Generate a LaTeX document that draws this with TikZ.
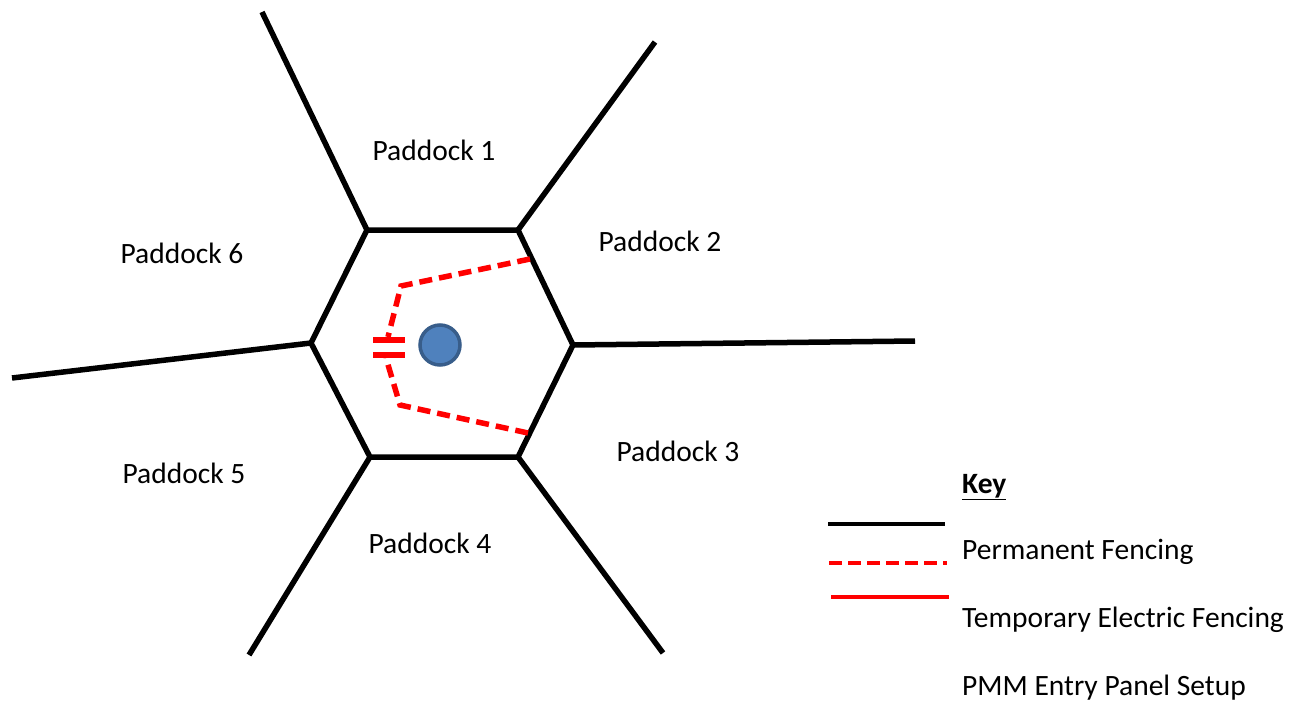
\documentclass[tikz,border=0pt]{standalone}
\usepackage{fontspec}
\setmainfont{Carlito}
\begin{document}
\begin{tikzpicture}[x=1pt,y=-1pt,
  perm/.style={line width=5.5pt,black},
  temp/.style={line width=5.5pt,red,dash pattern=on 13pt off 7pt},
  gatebar/.style={line width=5.5pt,red},
  lbl/.style={font=\fontsize{29.5}{34}\selectfont,inner sep=0pt},
  keytxt/.style={font=\fontsize{29.5}{34}\selectfont,inner sep=0pt,anchor=west}]
\useasboundingbox (0,0) rectangle (1289,704);
% hexagon corners
\coordinate (h1) at (367,230);
\coordinate (h2) at (518,230);
\coordinate (h3) at (573,345);
\coordinate (h4) at (518,457);
\coordinate (h5) at (370,457);
\coordinate (h6) at (311,343);
% outer ends of the radial fences
\coordinate (e1) at (262,12);
\coordinate (e2) at (655,42);
\coordinate (e3) at (915,341);
\coordinate (e4) at (663,653);
\coordinate (e5) at (249,655);
\coordinate (e6) at (12,378);
% permanent fencing
\draw[perm,line join=miter] (h1) -- (h2) -- (h3) -- (h4) -- (h5) -- (h6) -- cycle;
\draw[perm] (h1) -- (e1);
\draw[perm] (h2) -- (e2);
\draw[perm] (h3) -- (e3);
\draw[perm] (h4) -- (e4);
\draw[perm] (h5) -- (e5);
\draw[perm] (h6) -- (e6);
% temporary electric fencing leading to the entry gate
\coordinate (t1) at (530,259);
\coordinate (t2) at (401,286);
\coordinate (t3) at (388,337);
\coordinate (b1) at (528,433);
\coordinate (b2) at (400,405);
\coordinate (b3) at (386,358);
\draw[temp] (t1) -- (t2) -- (t3);
\draw[temp] (b1) -- (b2) -- (b3);
% gate bars
\coordinate (g1l) at (373,340);
\coordinate (g1r) at (405,340);
\coordinate (g2l) at (373,355);
\coordinate (g2r) at (405,355);
\draw[gatebar] (g1l) -- (g1r);
\draw[gatebar] (g2l) -- (g2r);
% PMM unit
\node[circle,minimum size=40pt,inner sep=0pt,fill={rgb,255:red,79;green,129;blue,189},
  draw={rgb,255:red,56;green,93;blue,138},line width=3.5pt] (pmm) at (440,345) {};
% paddock labels
\node[lbl] (p1) at (434,150) {Paddock 1};
\node[lbl] (p2) at (660,241) {Paddock 2};
\node[lbl] (p3) at (678,451) {Paddock 3};
\node[lbl] (p4) at (430,543) {Paddock 4};
\node[lbl] (p5) at (184,473) {Paddock 5};
\node[lbl] (p6) at (182,253) {Paddock 6};
% key
\node[keytxt,font=\fontsize{29.5}{34}\selectfont\bfseries] (key) at (962,487) {\underline{Key}};
\coordinate (k1a) at (828,524); \coordinate (k1b) at (945,524);
\coordinate (k2a) at (829,563); \coordinate (k2b) at (947,563);
\coordinate (k3a) at (831,597); \coordinate (k3b) at (949,597);
\draw[line width=4.5pt,black] (k1a) -- (k1b);
\draw[line width=4.5pt,red,dash pattern=on 13pt off 6pt] (k2a) -- (k2b);
\draw[line width=4.5pt,red] (k3a) -- (k3b);
\node[keytxt] (kt1) at (962,552) {Permanent Fencing};
\node[keytxt] (kt2) at (962,620) {Temporary Electric Fencing};
\node[keytxt] (kt3) at (962,688) {PMM Entry Panel Setup};
\end{tikzpicture}
\end{document}
